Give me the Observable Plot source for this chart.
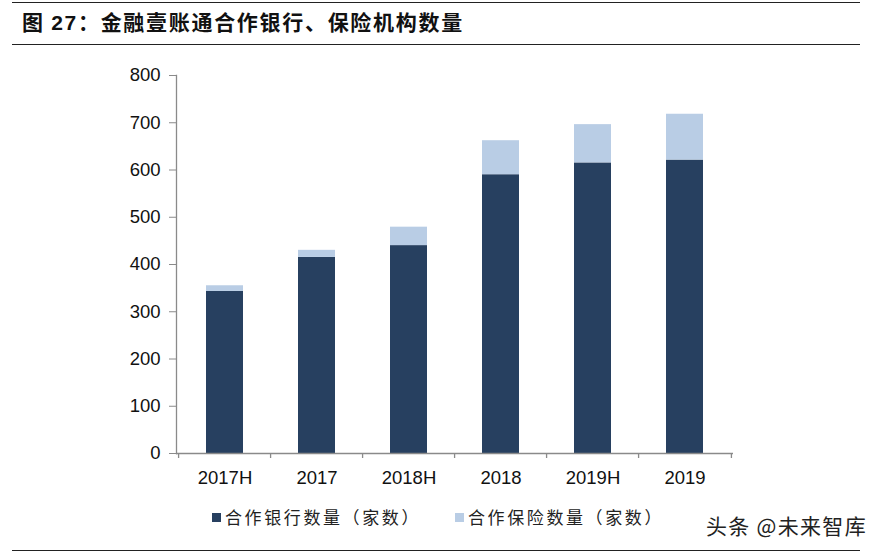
<!DOCTYPE html>
<html>
<head>
<meta charset="utf-8">
<script src="https://cdn.jsdelivr.net/npm/d3@7"></script>
<script src="https://cdn.jsdelivr.net/npm/@observablehq/plot@0.6"></script>
<style>
  body { margin: 0; background: #fff; }
  #wrap { position: relative; width: 885px; height: 555px; overflow: hidden; background: #fff; }
  .hline { position: absolute; left: 12px; width: 848px; height: 0; border-top: 1.5px solid #222; }
  #title { position: absolute; left: 22px; top: 7px; font-family: "Noto Sans CJK SC", sans-serif; font-weight: bold; font-size: 21px; line-height: 28px; letter-spacing: 1.7px; color: #111; white-space: nowrap; }
  #title .num { font-family: "Liberation Sans", Arial, sans-serif; font-weight: bold; }
  #chart { position: absolute; left: 0; top: 0; }
  .legend { position: absolute; top: 505px; font-family: "Noto Sans CJK SC", sans-serif; font-size: 17px; line-height: 24px; letter-spacing: 2.6px; color: #222; white-space: nowrap; display: flex; align-items: center; }
  .sw { display: inline-block; width: 9px; height: 9px; margin-right: 4px; }
  #wm { position: absolute; left: 706px; top: 510px; font-family: "Noto Sans CJK SC", sans-serif; font-size: 21px; line-height: 30px; letter-spacing: 1.3px; color: #222; white-space: nowrap; }
</style>
</head>
<body>
<div id="wrap">
  <div class="hline" style="top:2px"></div>
  <div id="title">图 <span class="num">27</span>：金融壹账通合作银行、保险机构数量</div>
  <div class="hline" style="top:44px"></div>
  <div id="chart"></div>
  <div class="legend" id="leg1" style="left:212px"></div>
  <div class="legend" id="leg2" style="left:455px"></div>
  <div id="wm">头条 @未来智库</div>
  <div class="hline" style="top:550px"></div>
</div>
<script>
const categories = ["2017H", "2017", "2018H", "2018", "2019H", "2019"];
const banks = [343, 415, 440, 590, 615, 621];
const insurers = [12, 15, 39, 72, 81, 97];
const seriesNames = ["合作银行数量（家数）", "合作保险数量（家数）"];
const seriesColors = ["#274060", "#B9CDE5"];
const yTicks = [0, 100, 200, 300, 400, 500, 600, 700, 800];

const rows = [];
categories.forEach((c, i) => {
  rows.push({cat: c, series: seriesNames[0], value: banks[i]});
  rows.push({cat: c, series: seriesNames[1], value: insurers[i]});
});

const W = 885, H = 500;
const mL = 176, mR = 152, mT = 75, mB = 47;
const step = (W - mL - mR) / categories.length;
const axisColor = "#8a8a8a";

const chart = Plot.plot({
  width: W,
  height: H,
  marginLeft: mL,
  marginRight: mR,
  marginTop: mT,
  marginBottom: mB,
  style: {fontFamily: "'Liberation Sans', Arial, sans-serif", fontSize: "18px", color: "#111", background: "transparent"},
  x: {domain: categories, paddingInner: 0.6, paddingOuter: 0.3, label: null},
  y: {domain: [0, 800], label: null},
  color: {domain: seriesNames, range: seriesColors},
  marks: [
    Plot.barY(rows, {x: "cat", y: "value", fill: "series", inset: 0}),
    Plot.ruleY([0], {stroke: axisColor, strokeWidth: 1.3}),
    Plot.frame({anchor: "left", stroke: axisColor, strokeWidth: 1.3}),
    Plot.ruleX(categories, {x: d => d, dx: -step / 2, y1: 0, y2: 0, insetBottom: -5, stroke: axisColor, strokeWidth: 1.3}),
    Plot.ruleX([categories[categories.length - 1]], {x: d => d, dx: step / 2, y1: 0, y2: 0, insetBottom: -5, stroke: axisColor, strokeWidth: 1.3}),
    Plot.axisY({ticks: yTicks, tickSize: 7, tickPadding: 9, stroke: axisColor, fill: "#111", fontSize: 18.5, tickFormat: d => String(d)}),
    Plot.axisX({tickSize: 0, tickPadding: 17, fill: "#111", fontSize: 18.5})
  ]
});
document.getElementById("chart").appendChild(chart);

function fillLegend(id, i) {
  const el = document.getElementById(id);
  const sw = document.createElement("span");
  sw.className = "sw";
  sw.style.background = seriesColors[i];
  el.appendChild(sw);
  el.appendChild(document.createTextNode(seriesNames[i]));
}
fillLegend("leg1", 0);
fillLegend("leg2", 1);
</script>
</body>
</html>
